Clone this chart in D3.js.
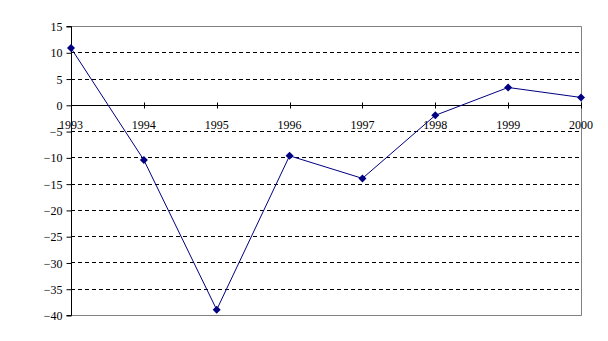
<!DOCTYPE html>
<html>
<head>
<meta charset="utf-8">
<script src="https://cdn.jsdelivr.net/npm/d3@7"></script>
<style>
  html, body { margin: 0; padding: 0; background: #fff; }
  svg text { font-family: "Liberation Serif", "Times New Roman", serif; font-size: 12px; fill: #000; }
</style>
</head>
<body>
<svg id="chart" width="608" height="341"></svg>
<script>
/* data */
const years = ['1993', '1994', '1995', '1996', '1997', '1998', '1999', '2000'];
const values = [10.8, -10.5, -39, -9.7, -14, -2, 3.3, 1.4];
const yTicks = [15, 10, 5, 0, -5, -10, -15, -20, -25, -30, -35, -40];

const W = 608, H = 341;
const margin = { top: 26, right: 27, bottom: 26, left: 71 };

const svg = d3.select('#chart');

const x = d3.scalePoint()
    .domain(years)
    .range([margin.left, W - margin.right]);

const y = d3.scaleLinear()
    .domain([-40, 15])
    .range([H - margin.bottom, margin.top]);

const x0 = margin.left, x1 = W - margin.right;

// dashed gridlines (skip border and zero line)
svg.append('g')
    .selectAll('line')
    .data(yTicks.filter(v => v !== 15 && v !== -40 && v !== 0))
    .enter().append('line')
    .attr('x1', x0).attr('x2', x1)
    .attr('y1', d => Math.round(y(d)) + 0.5)
    .attr('y2', d => Math.round(y(d)) + 0.5)
    .attr('stroke', '#000')
    .attr('stroke-dasharray', '4,3');

// plot border: top, right, bottom in grey
const yt = Math.round(y(15)) + 0.5, yb = Math.round(y(-40)) + 0.5, xr = Math.round(x1) + 0.5;
svg.append('path')
    .attr('d', `M${x0},${yt}H${xr}V${yb}H${x0}`)
    .attr('fill', 'none')
    .attr('stroke', '#808080');

// y axis
const yAxis = d3.axisLeft(y)
    .tickValues(yTicks)
    .tickSize(5)
    .tickPadding(4)
    .tickFormat(d3.format('d'));

const yg = svg.append('g')
    .attr('transform', `translate(${Math.round(x0) + 0.5},0.5)`)
    .call(yAxis);
yg.select('.domain').attr('stroke', '#000').attr('d', `M-5,${y(15)}H0V${y(-40)}H-5`);
yg.selectAll('.tick line').attr('stroke', '#000');
yg.selectAll('.tick text')
    .attr('dy', '0.34em')
    .style('font-family', '"Liberation Serif", serif')
    .style('font-size', '12px');

// zero axis with crossing ticks
const zy = Math.round(y(0)) + 0.5;
svg.append('line')
    .attr('x1', x0).attr('x2', x1)
    .attr('y1', zy).attr('y2', zy)
    .attr('stroke', '#000');

svg.append('g')
    .selectAll('line')
    .data(years.slice(1))
    .enter().append('line')
    .attr('x1', d => Math.round(x(d)) + 0.5)
    .attr('x2', d => Math.round(x(d)) + 0.5)
    .attr('y1', zy - 3).attr('y2', zy + 3)
    .attr('stroke', '#000');

svg.append('g')
    .selectAll('text')
    .data(years)
    .enter().append('text')
    .attr('x', d => x(d))
    .attr('y', zy + 23)
    .attr('text-anchor', 'middle')
    .text(d => d);

// series line
const line = d3.line()
    .x((d, i) => x(years[i]))
    .y(d => y(d));

svg.append('path')
    .datum(values)
    .attr('d', line)
    .attr('fill', 'none')
    .attr('stroke', '#000080')
    .attr('stroke-width', 1);

// diamond markers
svg.append('g')
    .selectAll('path')
    .data(values)
    .enter().append('path')
    .attr('transform', (d, i) => `translate(${x(years[i])},${y(d)})`)
    .attr('d', 'M0,-4L4,0L0,4L-4,0Z')
    .attr('fill', '#000080');
</script>
</body>
</html>
